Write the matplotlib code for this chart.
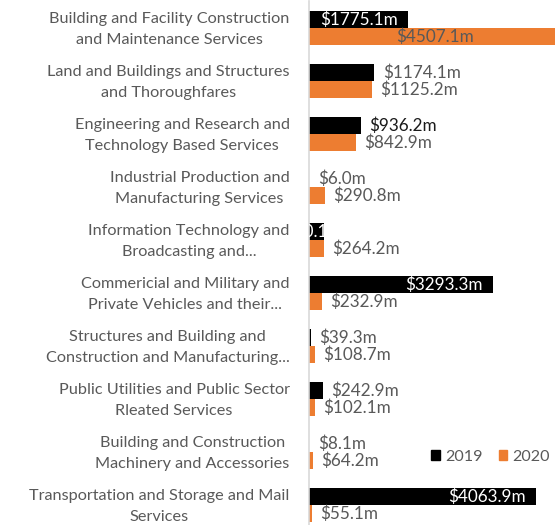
import matplotlib
matplotlib.use("Agg")
import matplotlib.pyplot as plt
import matplotlib.transforms as mtransforms
import numpy as np
from matplotlib.patches import Patch

plt.rcParams['font.family'] = ['Lato', 'DejaVu Sans']

categories = [
    "Building and Facility Construction\nand Maintenance Services",
    "Land and Buildings and Structures\nand Thoroughfares",
    "Engineering and Research and\nTechnology Based Services",
    "Industrial Production and\nManufacturing Services",
    "Information Technology and\nBroadcasting and...",
    "Commericial and Military and\nPrivate Vehicles and their...",
    "Structures and Building and\nConstruction and Manufacturing...",
    "Public Utilities and Public Sector\nRleated Services",
    "Building and Construction\nMachinery and Accessories",
    "Transportation and Storage and Mail\nServices",
]
vals_2019 = [1775.1, 1174.1, 936.2, 6.0, 270.1, 3293.3, 39.3, 242.9, 8.1, 4063.9]
vals_2020 = [4507.1, 1125.2, 842.9, 290.8, 264.2, 232.9, 108.7, 102.1, 64.2, 55.1]

BLACK = '#000000'
ORANGE = '#ED7D31'
GRAY = '#595959'

fig = plt.figure(figsize=(5.55, 5.25), dpi=100)
ax = fig.add_axes([309 / 555, -6.5 / 525, 246 / 555, 530 / 525])

y = np.arange(len(categories))
h = 0.33
b19 = ax.barh(y - h / 2, vals_2019, height=h, color=BLACK)
b20 = ax.barh(y + h / 2, vals_2020, height=h, color=ORANGE)

ax.set_xlim(0, 4410)
ax.set_ylim(9.5, -0.5)
ax.set_yticks(y)
ax.set_yticklabels(categories, fontsize=11.7, color=GRAY, ha='right',
                   multialignment='center', linespacing=1.62)
ax.tick_params(axis='y', length=0, pad=14)
# nudge category labels up a little
shift = mtransforms.ScaledTranslation(0, 3 / 100, fig.dpi_scale_trans)
for lbl in ax.get_yticklabels():
    lbl.set_transform(lbl.get_transform() + shift)
ax.set_xticks([])
for s in ['top', 'right', 'bottom']:
    ax.spines[s].set_visible(False)
ax.spines['left'].set_color('#D9D9D9')
ax.spines['left'].set_linewidth(1.2)

fs = 12.3
# 2019 labels
for i, (v, bar) in enumerate(zip(vals_2019, b19)):
    txt = f"${v:.1f}m"
    yc = y[i] - h / 2
    if v > 1500:
        ax.annotate(txt, (v, yc), xytext=(-7, 0), textcoords='offset points',
                    ha='right', va='center', color='white', fontsize=fs)
    elif i == 4:
        t = ax.annotate(txt, (v, yc), xytext=(12.5, 0), textcoords='offset points',
                        ha='right', va='center', color='white', fontsize=fs)
        t.set_clip_path(bar)
        t.set_clip_on(True)
    else:
        col = '#1a1a1a' if i == 2 else GRAY
        ax.annotate(txt, (v, yc), xytext=(6, 0), textcoords='offset points',
                    ha='left', va='center', color=col, fontsize=fs)

# 2020 labels
for i, v in enumerate(vals_2020):
    txt = f"${v:.1f}m"
    yc = y[i] + h / 2
    if v > 4400:
        ax.annotate(txt, (0, yc), xytext=(63, 0), textcoords='offset points',
                    ha='left', va='center', color=GRAY, fontsize=fs)
    else:
        ax.annotate(txt, (v, yc), xytext=(6, 0), textcoords='offset points',
                    ha='left', va='center', color=GRAY, fontsize=fs)

handles = [Patch(color=BLACK), Patch(color=ORANGE)]
fig.legend(handles, ['2019', '2020'], loc='center left', bbox_to_anchor=(420 / 555, 1 - 457 / 525),
           ncol=2, frameon=False, handlelength=0.55, handleheight=0.55,
           handletextpad=0.3, columnspacing=1.0, fontsize=11.6, labelcolor=GRAY,
           borderpad=0.2)

fig.savefig('out.png', dpi=100)
